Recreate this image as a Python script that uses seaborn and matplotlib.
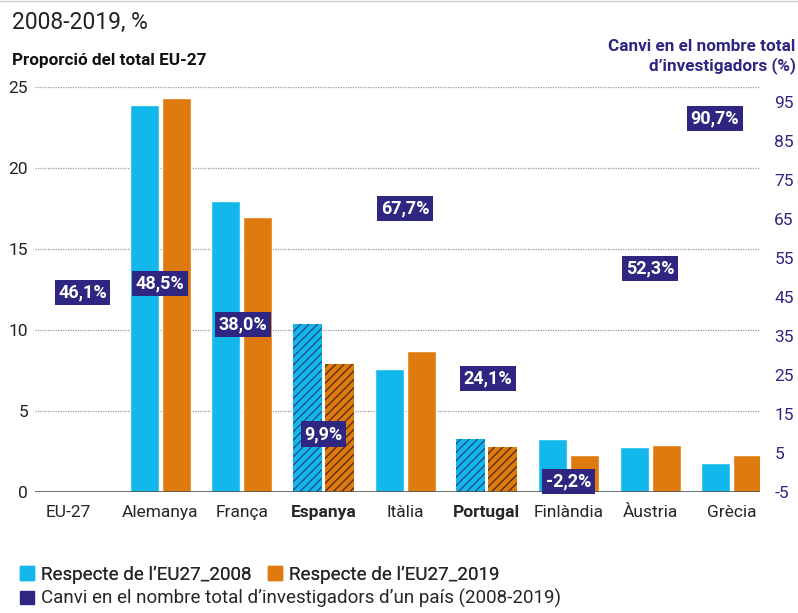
import numpy as np
import pandas as pd
import matplotlib
matplotlib.use("Agg")
import matplotlib.pyplot as plt
import matplotlib.transforms as mtransforms
import seaborn as sns
from matplotlib.patches import Patch

# Data
countries = ["EU-27", "Alemanya", "França", "Espanya", "Itàlia",
             "Portugal", "Finlàndia", "Àustria", "Grècia"]
share_2008 = [np.nan, 23.9, 18.0, 10.4, 7.6, 3.3, 3.3, 2.8, 1.8]
share_2019 = [np.nan, 24.3, 17.0, 7.9, 8.7, 2.8, 2.3, 2.9, 2.3]
change_pct = [46.1, 48.5, 38.0, 9.9, 67.7, 24.1, -2.2, 52.3, 90.7]
change_labels = ["46,1%", "48,5%", "38,0%", "9,9%", "67,7%",
                 "24,1%", "-2,2%", "52,3%", "90,7%"]
left_ticks = [0, 5, 10, 15, 20, 25]
right_ticks = [-5, 5, 15, 25, 35, 45, 55, 65, 75, 85, 95]
series_names = ["Respecte de l\u2019EU27_2008", "Respecte de l\u2019EU27_2019"]
highlight = ["Espanya", "Portugal"]

BLUE = "#12b8ec"
ORANGE = "#df7a0e"
PURPLE = "#2f2682"
BLUE_HATCH = "#1f4f8a"
ORANGE_HATCH = "#5a3010"

sns.set_theme(style="white")
plt.rcParams['font.family'] = ['Roboto', 'DejaVu Sans']
plt.rcParams['hatch.linewidth'] = 1.0

df = pd.DataFrame({
    "pais": countries * 2,
    "valor": share_2008 + share_2019,
    "serie": [series_names[0]] * len(countries) + [series_names[1]] * len(countries),
})

fig = plt.figure(figsize=(7.98, 6.13), dpi=100)
ax = fig.add_axes([0.044, 0.197, 0.908, 0.661])

sns.barplot(data=df, x="pais", y="valor", hue="serie", order=countries,
            hue_order=series_names, palette=[BLUE, ORANGE], width=0.784,
            gap=0.09, saturation=1, legend=False, ax=ax)

# hatch Spain and Portugal
for p in ax.patches:
    cx = p.get_x() + p.get_width() / 2
    idx = int(round(cx))
    if countries[idx] in highlight:
        is_blue = cx < idx
        p.set_hatch("////")
        p.set_edgecolor(BLUE_HATCH if is_blue else ORANGE_HATCH)
        p.set_linewidth(0)

ax.set_xlim(-0.53, 8.34)
ax.set_ylim(0, 25)
ax.set_yticks(left_ticks)
ax.set_yticklabels([str(t) for t in left_ticks], fontsize=12.5, color="#222222")
ax.tick_params(axis="y", length=0, pad=5)
ax.tick_params(axis="x", length=0, pad=9)
ax.set_xlabel("")
ax.set_ylabel("")
for t in left_ticks[1:]:
    ax.axhline(t, color="#999999", lw=0.9, ls=(0, (1, 1)), zorder=0)
ax.axhline(0, color="#555555", lw=1.2, zorder=3)
for s in ax.spines.values():
    s.set_visible(False)

ax.set_xticks(range(len(countries)))
ax.set_xticklabels(countries, fontsize=12.5)
for lab in ax.get_xticklabels():
    if lab.get_text() in highlight:
        lab.set_fontweight("bold")
# EU-27 label sits a bit left of its slot
eu_lab = ax.get_xticklabels()[0]
eu_lab.set_transform(eu_lab.get_transform() +
                     mtransforms.ScaledTranslation(-10 / 100, 0, fig.dpi_scale_trans))

# right axis
ax2 = ax.twinx()
ax2.set_ylim(-5, -5 + 25 * 4.153)
ax2.set_yticks(right_ticks)
ax2.set_yticklabels([str(t) for t in right_ticks], fontsize=12.5, color=PURPLE)
ax2.tick_params(axis="y", length=0, pad=10.5)
for s in ax2.spines.values():
    s.set_visible(False)
ax2.grid(False)

label_dx = [0.05, 0, 0.01, 0, 0, 0.01, 0, 0, -0.21]
for i, (v, txt) in enumerate(zip(change_pct, change_labels)):
    ax2.text(i + label_dx[i], v, txt, ha="center", va="center", fontsize=13,
             fontweight="bold", color="white", zorder=5,
             bbox=dict(boxstyle="square,pad=0.2", fc=PURPLE, ec="none"))

# titles
fig.add_artist(plt.Line2D([0, 1], [0.998, 0.998], color="#cccccc", lw=1))
fig.text(0.015, 0.963, "2008-2019, %", fontsize=16.5, color="#222222",
         ha="left", va="center")
fig.text(0.015, 0.901, "Proporció del total EU-27", fontsize=12.3,
         fontweight="bold", color="#111111", ha="left", va="center")
fig.text(0.997, 0.908, "Canvi en el nombre total\nd\u2019investigadors (%)",
         fontsize=12.3, fontweight="bold", color=PURPLE, ha="right",
         va="center", linespacing=1.2)

# legend
legend_font = {'size': 13.5}
handles = [Patch(color=BLUE, label=series_names[0]),
           Patch(color=ORANGE, label=series_names[1])]
leg1 = fig.legend(handles=handles, loc="lower left", bbox_to_anchor=(0.004, 0.02),
                  ncol=2, frameon=False, handlelength=0.75, handleheight=0.75,
                  handletextpad=0.35, columnspacing=0.9, prop=legend_font)
leg2 = fig.legend(handles=[Patch(color=PURPLE,
                  label="Canvi en el nombre total d\u2019investigadors d\u2019un país (2008-2019)")],
                  loc="lower left", bbox_to_anchor=(0.004, -0.02), frameon=False,
                  handlelength=0.75, handleheight=0.75, handletextpad=0.35,
                  prop=legend_font)
fig.add_artist(leg1)

fig.savefig("out.png", dpi=100)
